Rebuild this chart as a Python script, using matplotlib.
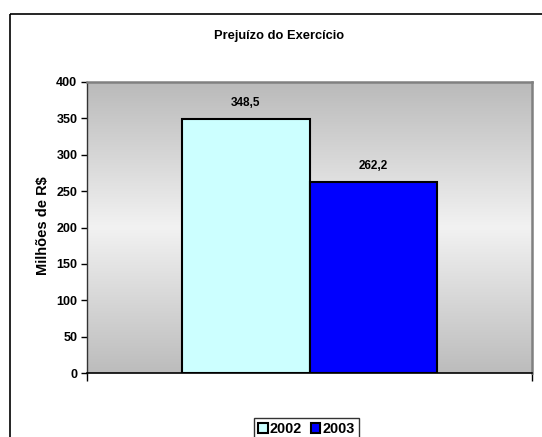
import matplotlib
matplotlib.use("Agg")
import matplotlib.pyplot as plt
import numpy as np
from matplotlib.patches import Rectangle
from matplotlib.colors import LinearSegmentedColormap

years = ["2002", "2003"]
values = [348.5, 262.2]
labels = ["348,5", "262,2"]
yticks = [0, 50, 100, 150, 200, 250, 300, 350, 400]
colors = ["#CCFFFF", "#0000FF"]

plt.rcParams['font.family'] = ['Liberation Sans', 'DejaVu Sans']
plt.rcParams['font.weight'] = 'bold'

W, H = 542, 437
fig = plt.figure(figsize=(W / 100, H / 100), dpi=100)
fig.patch.set_facecolor("white")

# outer chart frame (cut off on right and bottom)
fig.patches.append(Rectangle((10 / W, 1 - 13.5 / H), 2, -2, transform=fig.transFigure,
                             fill=False, edgecolor="black", linewidth=1.2))

left, right, top, bottom = 87, 532, 82, 373
ax = fig.add_axes([left / W, 1 - bottom / H, (right - left) / W, (bottom - top) / H])

# gradient background
cmap = LinearSegmentedColormap.from_list("g", ["#bababa", "#f2f2f2", "#bcbcbc"])
grad = np.linspace(0, 1, 256).reshape(-1, 1)
ax.imshow(grad, extent=[0, 1, 0, 400], aspect="auto", cmap=cmap, zorder=0, origin="upper")

w = 1 / 3.5
xs = [0.5 - w / 2, 0.5 + w / 2]
bars = ax.bar(xs, values, width=w, color=colors, edgecolor="black", linewidth=1.5,
              zorder=2, label=None)
for b, lab in zip(bars, labels):
    ax.text(b.get_x() + b.get_width() / 2, b.get_height() + 14, lab, ha="center",
            va="bottom", fontsize=8.5, fontweight="bold")

ax.set_xlim(0, 1)
ax.set_ylim(0, 400)
ax.set_yticks(yticks)
ax.set_yticklabels([str(t) for t in yticks], fontsize=9, fontweight="bold")
ax.set_xticks([0, 1])
ax.set_xticklabels(["", ""])
ax.tick_params(axis="y", direction="out", length=4, width=1, pad=3)
ax.tick_params(axis="x", direction="out", length=6, width=1)
for s in ["top", "right"]:
    ax.spines[s].set_color("#808080")
    ax.spines[s].set_linewidth(1.8)
ax.spines["left"].set_color("#333333")
ax.spines["bottom"].set_color("black")
ax.spines["left"].set_linewidth(1.0)
ax.spines["bottom"].set_linewidth(1.2)

ax.set_ylabel("Milhões de R$", fontsize=10.5, fontweight="bold", va="center")
ax.yaxis.set_label_coords((43 - left) / (right - left), 0.505)

fig.text(279 / W, 1 - 36 / H, "Prejuízo do Exercício", ha="center", va="center",
         fontsize=9.25, fontweight="bold")

handles = [Rectangle((0, 0), 1, 1, facecolor=c, edgecolor="black", linewidth=1.5) for c in colors]
leg = fig.legend(handles, years, loc="upper left", bbox_to_anchor=(254 / W, 1 - 418 / H),
                 ncol=2, frameon=True, fancybox=False, edgecolor="black",
                 prop={"size": 10.4, "weight": "bold"}, handlelength=0.65, handleheight=0.65,
                 handletextpad=0.15, columnspacing=0.6, borderpad=0.3, borderaxespad=0)
leg.get_frame().set_linewidth(1.0)

fig.savefig("out.png", dpi=100)
